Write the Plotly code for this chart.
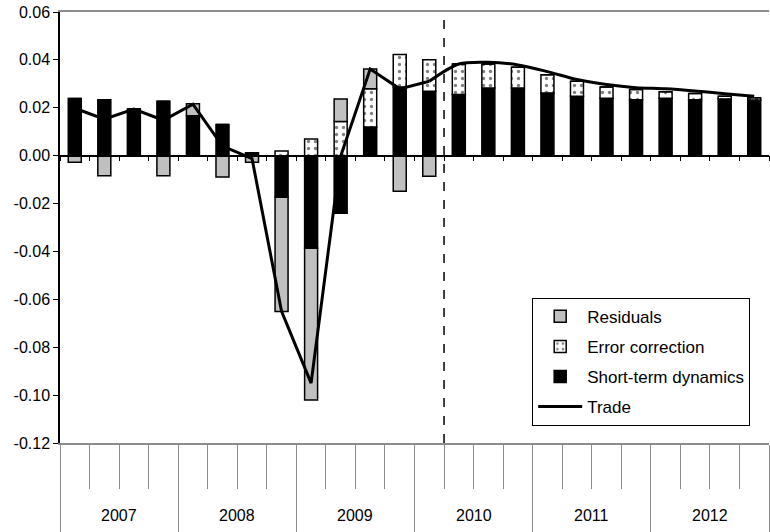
import plotly.graph_objects as go

# quarterly contributions, 2007Q1 - 2012Q4
years = ["2007", "2008", "2009", "2010", "2011", "2012"]
quarters = [y + "Q" + str(q) for y in years for q in range(1, 5)]
forecast_from = "2010Q2"

short_term = [0.0239, 0.0234, 0.0195, 0.0227, 0.0167, 0.0130, 0.0012, -0.0174,
              -0.0387, -0.0240, 0.0120, 0.0287, 0.0269, 0.0255, 0.0283, 0.0283,
              0.0262, 0.0248, 0.0240, 0.0234, 0.0240, 0.0234, 0.0237, 0.0232]
error_corr = [0.0, 0.0, 0.0, 0.0, 0.0, 0.0, 0.0, 0.0020,
              0.0070, 0.0143, 0.0159, 0.0135, 0.0132, 0.0128, 0.0100, 0.0086,
              0.0076, 0.0063, 0.0047, 0.0042, 0.0027, 0.0026, 0.0011, 0.0010]
residuals = [-0.0028, -0.0084, 0.0, -0.0084, 0.0050, -0.0089, -0.0028, -0.0477,
             -0.0633, 0.0094, 0.0083, -0.0149, -0.0086, 0.0, 0.0, 0.0,
             0.0, 0.0, 0.0, 0.0, 0.0, 0.0, 0.0, 0.0]
trade = [0.0198, 0.0152, 0.0195, 0.0148, 0.0215, 0.0040, -0.0012, -0.0650,
         -0.0950, -0.0003, 0.0362, 0.0279, 0.0311, 0.0383, 0.0390, 0.0379,
         0.0351, 0.0318, 0.0297, 0.0284, 0.0279, 0.0270, 0.0259, 0.0248]

y_ticks = [-0.12, -0.10, -0.08, -0.06, -0.04, -0.02, 0.0, 0.02, 0.04, 0.06]
y_labels = ["-0.12", "-0.10", "-0.08", "-0.06", "-0.04", "-0.02", "0.00", "0.02", "0.04", "0.06"]

idx = list(range(len(quarters)))
fc = quarters.index(forecast_from)
q_edges = [i - 0.5 for i in range(len(quarters) + 1)]
y_edges = [i - 0.5 for i in range(0, len(quarters) + 1, 4)]
y_mid = [i + 1.5 for i in range(0, len(quarters), 4)]

FONT = "Liberation Sans, Arial, sans-serif"
GREY = "#8c8c8c"

fig = go.Figure()
fig.add_trace(go.Bar(x=idx, y=short_term, name="Short-term dynamics",
                     marker=dict(color="black", line=dict(color="black", width=1.5)),
                     width=0.44, legendrank=3, legendgroup="s"))
fig.add_trace(go.Bar(x=idx, y=error_corr, name="Error correction",
                     marker=dict(color="white", line=dict(color="black", width=1.5),
                                 pattern=dict(shape=".", fgcolor="black", bgcolor="white",
                                              size=7, solidity=0.18)),
                     width=0.44, legendrank=2, legendgroup="e"))
fig.add_trace(go.Bar(x=idx, y=residuals, name="Residuals",
                     marker=dict(color="#c0c0c0", line=dict(color="black", width=1.5)),
                     width=0.44, legendrank=1, legendgroup="r"))
# history drawn straight, projection smooth
fig.add_trace(go.Scatter(x=idx[:fc], y=trade[:fc], mode="lines", name="Trade",
                         line=dict(color="black", width=3), legendrank=4, legendgroup="t",
                         xaxis="x2"))
fig.add_trace(go.Scatter(x=idx[fc - 1:], y=trade[fc - 1:], mode="lines", name="Trade",
                         line=dict(color="black", width=3, shape="spline", smoothing=0.8),
                         showlegend=False, legendgroup="t", xaxis="x2"))

fig.add_vline(x=fc - 0.5, line=dict(color="black", width=1.5, dash="dash"))

for yr, xm in zip(years, y_mid):
    fig.add_annotation(x=xm, y=0, xref="x", yref="paper", text=yr, showarrow=False,
                       yanchor="top", yshift=-62, font=dict(size=16, family=FONT, color="black"))

fig.update_layout(
    width=770, height=532,
    margin=dict(l=60, r=1, t=12, b=89, autoexpand=False),
    plot_bgcolor="white", paper_bgcolor="white",
    barmode="relative",
    font=dict(family=FONT, size=16, color="black"),
    showlegend=True,
    legend=dict(x=0.666, y=0.337, xanchor="left", yanchor="top",
                bordercolor="black", borderwidth=1, bgcolor="white",
                traceorder="grouped", tracegroupgap=5, itemwidth=44,
                font=dict(size=17, family=FONT, color="black")),
    xaxis=dict(range=[-0.5, len(quarters) - 0.5], showgrid=False, zeroline=False,
               automargin=False,
               showline=True, linecolor=GREY, linewidth=1.5, mirror=True,
               tickmode="array", tickvals=y_edges, ticks="outside", ticklen=89,
               tickcolor=GREY, tickwidth=1, showticklabels=False,
               minor=dict(tickmode="array", tickvals=q_edges, ticks="outside",
                          ticklen=44, tickcolor=GREY, tickwidth=1)),
    xaxis2=dict(range=[-0.5, len(quarters) - 0.5], overlaying="x", anchor="free",
                position=2 / 3, showgrid=False, zeroline=False, automargin=False,
                showline=True, linecolor="black", linewidth=1.5,
                tickmode="array", tickvals=q_edges, ticks="outside", ticklen=5,
                tickcolor="black", tickwidth=1, showticklabels=False),
    yaxis=dict(range=[-0.12, 0.06], tickmode="array", tickvals=y_ticks, ticktext=y_labels,
               showgrid=False, zeroline=False, showline=True, linecolor="black",
               automargin=False, ticklabeloverflow="allow",
               linewidth=1.5, ticks="outside", ticklen=5, tickcolor="black",
               tickfont=dict(size=16, family=FONT, color="black")),
)

# drop the page's default body margin so the figure sits at the window corner
fig.write_html("out.html", config={"displayModeBar": False},
               post_script="document.body.style.margin='0';")
